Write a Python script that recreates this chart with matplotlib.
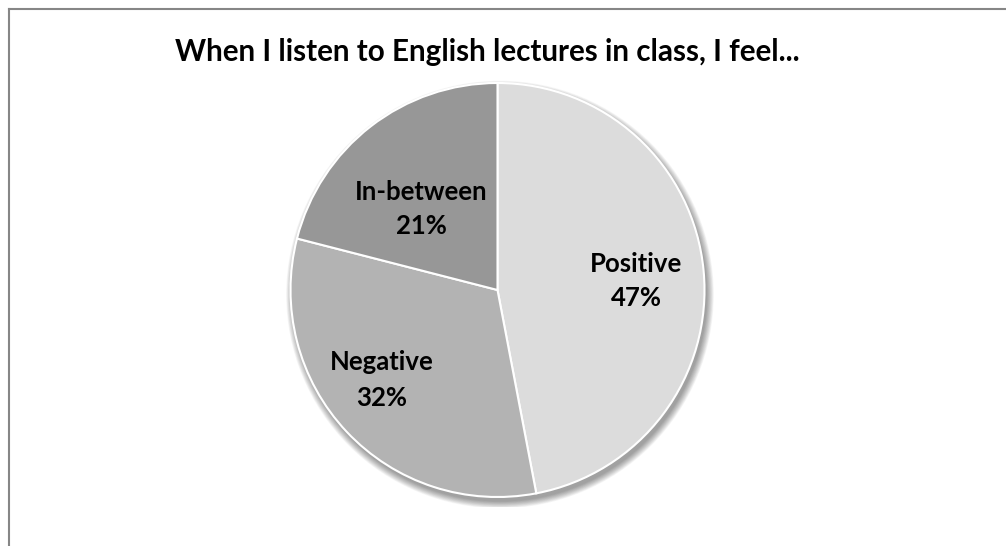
import matplotlib
matplotlib.use("Agg")
import matplotlib.pyplot as plt
from matplotlib.patches import Circle

labels = ["Positive", "Negative", "In-between"]
shares = [47, 32, 21]
colors = ["#dcdcdc", "#b3b3b3", "#979797"]
title = "When I listen to English lectures in class, I feel..."

W, H = 1006, 546
fig = plt.figure(figsize=(W / 100, H / 100), dpi=100)
fig.patch.set_facecolor("white")

# chart frame (top and left edges visible)
fig.add_artist(plt.Line2D([8.5 / W, 1.0], [1 - 8.5 / H, 1 - 8.5 / H], color="#868686", lw=1.5,
                          transform=fig.transFigure))
fig.add_artist(plt.Line2D([8.5 / W, 8.5 / W], [0, 1 - 8.5 / H], color="#868686", lw=1.5,
                          transform=fig.transFigure))

fig.text(487 / W, 1 - 52 / H, title, ha="center", va="center",
         fontsize=21.3, fontweight="bold", family="Lato")

cx, cy, r = 497.5, 290, 207
ax = fig.add_axes([(cx - r - 10) / W, 1 - (cy + r + 10) / H, (2 * r + 20) / W, (2 * r + 20) / H])

# soft drop shadow
for i in range(12):
    ax.add_patch(Circle((0.012, -0.022), 1.0 + 0.003 * i, color="black", alpha=0.035, lw=0, zorder=0))

wedges, texts = ax.pie(shares, colors=colors, startangle=90, counterclock=False, radius=1.0,
                       wedgeprops=dict(edgecolor="white", linewidth=1.5))
for w in wedges:
    w.set_zorder(2)

pad = (r + 10) / r
ax.set_xlim(-pad, pad)
ax.set_ylim(-pad, pad)
ax.set_aspect("equal")
ax.axis("off")

label_pos = [(636, 281), (382, 380), (421, 209)]
for (px, py), lab, val in zip(label_pos, labels, shares):
    fig.text(px / W, 1 - py / H, f"{lab}\n{val}%", ha="center", va="center",
             fontsize=18.5, fontweight="bold", family="Lato", linespacing=1.55)

fig.savefig("out.png", dpi=100, facecolor="white")
